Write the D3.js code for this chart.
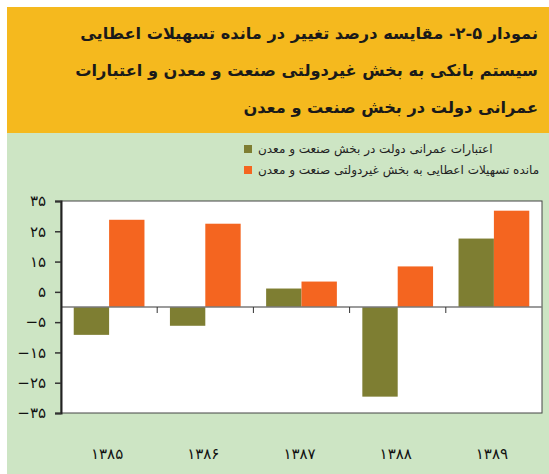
<!DOCTYPE html>
<html>
<head>
<meta charset="utf-8">
<script src="https://cdn.jsdelivr.net/npm/d3@7"></script>
<style>
  html, body { margin: 0; padding: 0; background: #fff; }
  svg { display: block; font-family: "DejaVu Sans", sans-serif; }
</style>
</head>
<body>
<svg id="chart" width="549" height="474"></svg>
<script>
// data
const years = ['۱۳۸۵', '۱۳۸۶', '۱۳۸۷', '۱۳۸۸', '۱۳۸۹'];
const seriesNames = [
    'اعتبارات عمرانی دولت در بخش صنعت و معدن',
    'مانده تسهیلات اعطایی به بخش غیردولتی صنعت و معدن'
];
const govCredit = [-9.2, -6.2, 6.1, -29.6, 22.6];
const bankLoans = [28.8, 27.5, 8.4, 13.4, 31.8];
const yTicks = [35, 25, 15, 5, -5, -15, -25, -35];
const titleLines = [
    'نمودار ۵-۲- مقایسه درصد تغییر در مانده تسهیلات اعطایی',
    'سیستم بانکی به بخش غیردولتی صنعت و معدن و اعتبارات',
    'عمرانی دولت در بخش صنعت و معدن'
];

const colors = ['#7E7E32', '#F46520'];
const faDigits = n => String(n).replace(/\d/g, d => '۰۱۲۳۴۵۶۷۸۹'[d]);

const svg = d3.select('#chart');

// backgrounds
svg.append('rect').attr('x', 7).attr('y', 7).attr('width', 542).attr('height', 126)
    .attr('fill', '#F5B91E');
svg.append('rect').attr('x', 7).attr('y', 133).attr('width', 542).attr('height', 341)
    .attr('fill', '#CDE5C4');

// title
svg.append('g').selectAll('text')
    .data(titleLines)
    .enter().append('text')
    .attr('x', 538)
    .attr('y', (d, i) => 39 + i * 37)
    .attr('text-anchor', 'end')
    .attr('font-size', '16.2px')
    .attr('font-weight', 'bold')
    .attr('fill', '#1a1a1a')
    .text(d => d);

// legend
const legend = svg.append('g');
seriesNames.forEach((name, i) => {
    legend.append('rect')
        .attr('x', 244).attr('y', 145 + i * 21)
        .attr('width', 8).attr('height', 8)
        .attr('fill', colors[i]);
    legend.append('text')
        .attr('x', 258).attr('y', 153 + i * 21)
        .attr('font-size', '12px')
        .attr('fill', '#222')
        .text(name);
});

// plot area
const pLeft = 61, pRight = 542, pTop = 201, pBottom = 413;

const x = d3.scaleBand().domain(years).range([pLeft, pRight]).paddingInner(0).paddingOuter(0);
const y = d3.scaleLinear().domain([-35, 35]).range([pBottom, pTop]);
const inner = d3.scaleBand().domain([0, 1]).range([0, x.bandwidth()]).paddingInner(0).paddingOuter(0.36);

svg.append('rect')
    .attr('x', pLeft).attr('y', pTop)
    .attr('width', pRight - pLeft).attr('height', pBottom - pTop)
    .attr('fill', '#fff')
    .attr('stroke', '#444').attr('stroke-width', 1);

// bars
const series = [govCredit, bankLoans];
series.forEach((vals, s) => {
    svg.append('g').selectAll('rect')
        .data(vals)
        .enter().append('rect')
        .attr('x', (d, i) => x(years[i]) + inner(s))
        .attr('width', inner.bandwidth())
        .attr('y', d => y(Math.max(0, d)))
        .attr('height', d => Math.abs(y(d) - y(0)))
        .attr('fill', colors[s]);
});

// zero line
svg.append('line')
    .attr('x1', pLeft).attr('x2', pRight)
    .attr('y1', y(0)).attr('y2', y(0))
    .attr('stroke', '#7a7a7a').attr('stroke-width', 1.5);

// category separators on the zero line
svg.append('g').selectAll('line')
    .data(years.slice(1))
    .enter().append('line')
    .attr('x1', d => x(d)).attr('x2', d => x(d))
    .attr('y1', y(0)).attr('y2', y(0) + 6)
    .attr('stroke', '#333').attr('stroke-width', 1);

// y axis
const yAxis = svg.append('g')
    .attr('transform', `translate(${pLeft},0)`)
    .call(d3.axisLeft(y).tickValues(yTicks).tickSize(6).tickPadding(9)
        .tickFormat(d => (d < 0 ? '−' : '') + faDigits(Math.abs(d))));
yAxis.select('.domain').attr('stroke', '#222').attr('stroke-width', 2);
yAxis.selectAll('.tick line').attr('stroke', '#333').attr('stroke-width', 1.5);
yAxis.selectAll('.tick text')
    .attr('font-size', '15px')
    .attr('font-family', '"DejaVu Sans", sans-serif')
    .attr('fill', '#111');

// x labels
svg.append('g').selectAll('text')
    .data(years)
    .enter().append('text')
    .attr('x', d => x(d) + x.bandwidth() / 2 - 2)
    .attr('y', 459)
    .attr('text-anchor', 'middle')
    .attr('font-size', '15px')
    .attr('fill', '#111')
    .text(d => d);
</script>
</body>
</html>
